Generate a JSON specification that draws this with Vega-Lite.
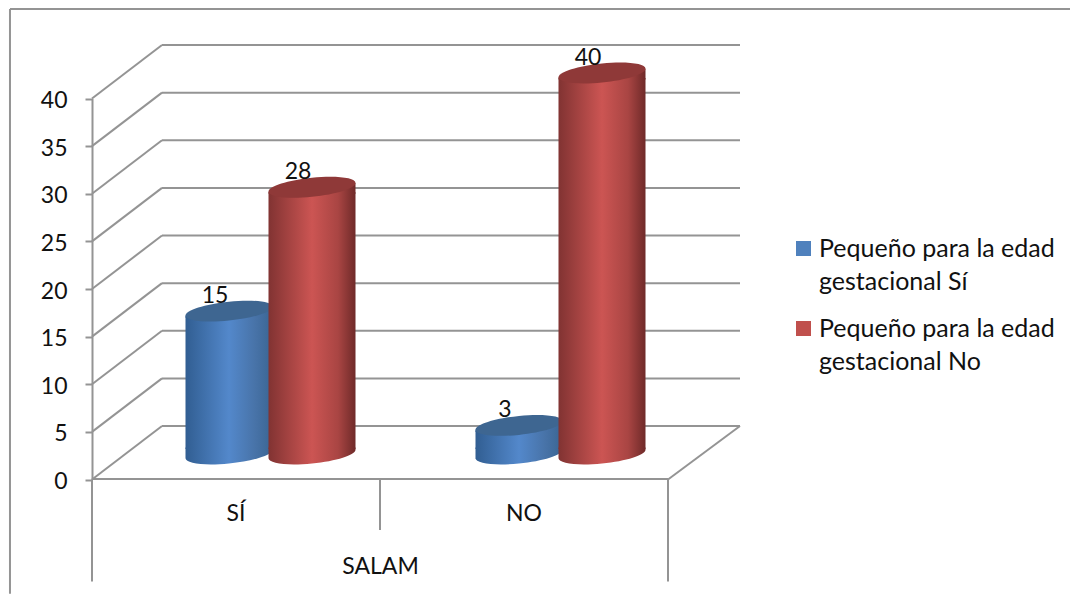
{
"$schema":"https://vega.github.io/schema/vega-lite/v6.json",
"width":1070,"height":594,"autosize":{"type":"fit","contains":"padding"},"padding":0,
"background":"white",
"config":{"view":{"stroke":null},"font":"Lato"},
"datasets":{
"levels":[{"v":0},{"v":5},{"v":10},{"v":15},{"v":20},{"v":25},{"v":30},{"v":35},{"v":40}],
"cats":[{"cat":"SÍ","low":-10.7},{"cat":"NO","low":-5.3}],
"bars":[
{"cat":"SÍ","series":"Pequeño para la edad gestacional Sí","value":15},
{"cat":"SÍ","series":"Pequeño para la edad gestacional No","value":28},
{"cat":"NO","series":"Pequeño para la edad gestacional Sí","value":3},
{"cat":"NO","series":"Pequeño para la edad gestacional No","value":40}
]},
"resolve":{"scale":{"x":"independent"}},
"layer":[
{"data":{"name":"levels"},
"layer":[
{"mark":{"type":"rule","color":"#949494","strokeWidth":2,"xOffset":70,"x2Offset":72,"yOffset":-53.5},
"encoding":{"x":{"datum":0,"type":"quantitative","scale":{"domain":[0,1],"range":[92,668]},"axis":null},"x2":{"datum":1},
"y":{"field":"v","type":"quantitative","scale":{"domain":[0,40],"range":[479.5,98.5]},
"axis":{"orient":"left","offset":-92,"title":null,"values":[0,5,10,15,20,25,30,35,40],"grid":false,"domainColor":"#949494","domainWidth":2,"tickColor":"#949494","tickWidth":2,"tickSize":7,"labelPadding":18,"labelOffset":2,"labelFont":"Lato","labelFontSize":23,"labelColor":"#111111"}}}},
{"mark":{"type":"rule","color":"#949494","strokeWidth":2,"x2Offset":70,"y2Offset":-53.5},
"encoding":{"x":{"datum":0,"type":"quantitative"},"x2":{"datum":0},"y":{"field":"v","type":"quantitative"},"y2":{"field":"v"}}},
{"transform":[{"filter":"datum.v==0"}],"mark":{"type":"rule","color":"#949494","strokeWidth":2,"x2Offset":72,"y2Offset":-53.5},
"encoding":{"x":{"datum":1,"type":"quantitative"},"x2":{"datum":1},"y":{"field":"v","type":"quantitative"},"y2":{"field":"v"}}},
{"transform":[{"filter":"datum.v==0"}],"mark":{"type":"rule","color":"#949494","strokeWidth":2},
"encoding":{"x":{"datum":1,"type":"quantitative"},"y":{"field":"v","type":"quantitative"},"y2":{"datum":-10.7}}},
{"transform":[{"filter":"datum.v==0"}],"mark":{"type":"rule","color":"#949494","strokeWidth":2},
"encoding":{"x":{"datum":-0.1424,"type":"quantitative"},"y":{"datum":49.4,"type":"quantitative"},"y2":{"datum":-12}}},
{"transform":[{"filter":"datum.v==0"}],"mark":{"type":"rule","color":"#949494","strokeWidth":2},
"encoding":{"x":{"datum":-0.1424,"type":"quantitative"},"x2":{"datum":1.7},"y":{"datum":49.4,"type":"quantitative"}}}
]},
{"data":{"name":"cats"},
"mark":{"type":"rule","color":"#949494","strokeWidth":2},
"encoding":{
"x":{"field":"cat","type":"nominal","bandPosition":0,"sort":null,"scale":{"domain":["SÍ","NO"],"range":[92,668],"paddingInner":0,"paddingOuter":0},
"axis":{"orient":"bottom","offset":-114.5,"title":"SALAM","labelAngle":0,"ticks":false,"domainColor":"#949494","domainWidth":2,"labelPadding":24,"labelFont":"Lato","labelFontSize":23,"labelColor":"#111111","titleFont":"Lato","titleFontSize":23,"titleFontWeight":"normal","titleColor":"#111111","titleY":88,"titleBaseline":"middle"}},
"y":{"field":"low","type":"quantitative"},"y2":{"datum":0}}},
{"data":{"name":"bars"},
"encoding":{
"x":{"field":"cat","type":"nominal","sort":null,"axis":null,"scale":{"domain":["SÍ","NO"],"range":[92,672],"paddingInner":0,"paddingOuter":0}},
"xOffset":{"field":"series","type":"nominal","sort":null,"scale":{"domain":["Pequeño para la edad gestacional Sí","Pequeño para la edad gestacional No"],"range":[95.5,261.5],"paddingInner":0,"paddingOuter":0}}},
"layer":[
{"mark":{"type":"bar","width":87,"opacity":0,"yOffset":-25.5,"y2Offset":-25.5},
"encoding":{"y":{"field":"value","type":"quantitative"},"y2":{"datum":0},
"color":{"field":"series","type":"nominal","sort":null,"scale":{"domain":["Pequeño para la edad gestacional Sí","Pequeño para la edad gestacional No"],"range":["#4F81BD","#C0504D"]},
"legend":{"orient":"none","legendX":791,"legendY":236,"title":null,"symbolType":"square","symbolSize":225,"symbolOpacity":1,"symbolStrokeWidth":0,"labelFont":"Lato","labelFontSize":25,"labelColor":"#111111","labelLimit":400,"labelOffset":3,"rowPadding":21,"labelExpr":"[slice(datum.label,0,20),slice(datum.label,21)]","encoding":{"labels":{"lineHeight":{"value":33}}}}}}},
{"transform":[{"filter":"datum.series=='Pequeño para la edad gestacional Sí'"}],
"mark":{"type":"point","filled":true,"opacity":1,"size":7569,"yOffset":-25.5,"shape":"M-1,-0.15 L1,-0.15 L1,-0.1 C1,0.0204 0.5523,0.1628 0,0.218 C-0.5523,0.2732 -1,0.2204 -1,0.1 Z",
"fill":{"gradient":"linear","x1":0,"y1":0,"x2":1,"y2":0,"stops":[{"offset":0,"color":"#315E92"},{"offset":0.5,"color":"#5388CB"},{"offset":0.8,"color":"#4873A8"},{"offset":1,"color":"#3A6593"}]}},
"encoding":{"y":{"datum":0,"type":"quantitative"}}},
{"transform":[{"filter":"datum.series=='Pequeño para la edad gestacional Sí'"}],
"mark":{"type":"bar","width":87,"yOffset":-20.5,"y2Offset":-30.5,
"fill":{"gradient":"linear","x1":0,"y1":0,"x2":1,"y2":0,"stops":[{"offset":0,"color":"#315E92"},{"offset":0.5,"color":"#5388CB"},{"offset":0.8,"color":"#4873A8"},{"offset":1,"color":"#3A6593"}]}},
"encoding":{"y":{"field":"value","type":"quantitative"},"y2":{"datum":0}}},
{"transform":[{"filter":"datum.series=='Pequeño para la edad gestacional Sí'"}],
"mark":{"type":"point","filled":true,"opacity":1,"size":7569,"yOffset":-25.5,"shape":"M-1,0.1 L1,-0.1 L1,0.15 L-1,0.15 Z",
"fill":{"gradient":"linear","x1":0,"y1":0,"x2":1,"y2":0,"stops":[{"offset":0,"color":"#315E92"},{"offset":0.5,"color":"#5388CB"},{"offset":0.8,"color":"#4873A8"},{"offset":1,"color":"#3A6593"}]}},
"encoding":{"y":{"field":"value","type":"quantitative"}}},
{"transform":[{"filter":"datum.series=='Pequeño para la edad gestacional Sí'"}],
"mark":{"type":"point","filled":true,"opacity":1,"size":7569,"yOffset":-25.5,"fill":"#3E6691","shape":"M1,-0.1 C1,0.0204 0.5523,0.1628 0,0.218 C-0.5523,0.2732 -1,0.2204 -1,0.1 C-1,-0.0204 -0.5523,-0.1628 0,-0.218 C0.5523,-0.2732 1,-0.2204 1,-0.1 Z"},
"encoding":{"y":{"field":"value","type":"quantitative"}}},
{"transform":[{"filter":"datum.series=='Pequeño para la edad gestacional No'"}],
"mark":{"type":"point","filled":true,"opacity":1,"size":7569,"yOffset":-25.5,"shape":"M-1,-0.15 L1,-0.15 L1,-0.1 C1,0.0204 0.5523,0.1628 0,0.218 C-0.5523,0.2732 -1,0.2204 -1,0.1 Z",
"fill":{"gradient":"linear","x1":0,"y1":0,"x2":1,"y2":0,"stops":[{"offset":0,"color":"#813332"},{"offset":0.5,"color":"#CC5553"},{"offset":0.8,"color":"#A94543"},{"offset":1,"color":"#6F2A29"}]}},
"encoding":{"y":{"datum":0,"type":"quantitative"}}},
{"transform":[{"filter":"datum.series=='Pequeño para la edad gestacional No'"}],
"mark":{"type":"bar","width":87,"yOffset":-20.5,"y2Offset":-30.5,
"fill":{"gradient":"linear","x1":0,"y1":0,"x2":1,"y2":0,"stops":[{"offset":0,"color":"#813332"},{"offset":0.5,"color":"#CC5553"},{"offset":0.8,"color":"#A94543"},{"offset":1,"color":"#6F2A29"}]}},
"encoding":{"y":{"field":"value","type":"quantitative"},"y2":{"datum":0}}},
{"transform":[{"filter":"datum.series=='Pequeño para la edad gestacional No'"}],
"mark":{"type":"point","filled":true,"opacity":1,"size":7569,"yOffset":-25.5,"shape":"M-1,0.1 L1,-0.1 L1,0.15 L-1,0.15 Z",
"fill":{"gradient":"linear","x1":0,"y1":0,"x2":1,"y2":0,"stops":[{"offset":0,"color":"#813332"},{"offset":0.5,"color":"#CC5553"},{"offset":0.8,"color":"#A94543"},{"offset":1,"color":"#6F2A29"}]}},
"encoding":{"y":{"field":"value","type":"quantitative"}}},
{"transform":[{"filter":"datum.series=='Pequeño para la edad gestacional No'"}],
"mark":{"type":"point","filled":true,"opacity":1,"size":7569,"yOffset":-25.5,"fill":"#8F3938","shape":"M1,-0.1 C1,0.0204 0.5523,0.1628 0,0.218 C-0.5523,0.2732 -1,0.2204 -1,0.1 C-1,-0.0204 -0.5523,-0.1628 0,-0.218 C0.5523,-0.2732 1,-0.2204 1,-0.1 Z"},
"encoding":{"y":{"field":"value","type":"quantitative"}}},
{"mark":{"type":"text","font":"Lato","fontSize":23,"color":"#111111","baseline":"alphabetic","align":"center","dx":-14,"dy":-34},
"encoding":{"y":{"field":"value","type":"quantitative"},"text":{"field":"value","type":"quantitative"}}}
]}
]}
